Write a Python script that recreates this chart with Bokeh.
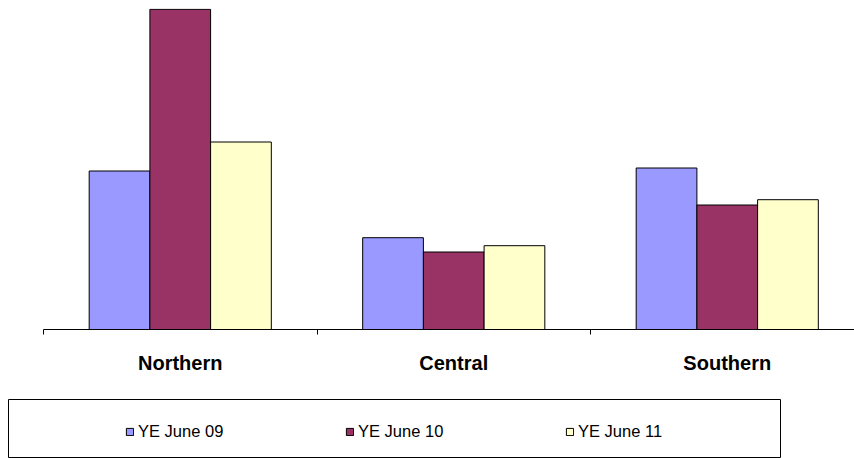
import numpy as np
from bokeh.plotting import figure
from bokeh.models import (ColumnDataSource, Range1d, LinearAxis, FixedTicker)
from bokeh.transform import dodge
from bokeh.embed import file_html
from bokeh.resources import INLINE

categories = ["Northern", "Central", "Southern"]
series_names = ["YE June 09", "YE June 10", "YE June 11"]
ye_june_09 = [158.5, 91.8, 161.5]
ye_june_10 = [320.2, 77.5, 124.5]
ye_june_11 = [187.5, 83.8, 129.8]
colors = ["#9999FF", "#993366", "#FFFFCC"]

x_centers = np.arange(len(categories)) + 0.5
src = ColumnDataSource(dict(x=x_centers, s0=ye_june_09, s1=ye_june_10, s2=ye_june_11))

p = figure(width=854, height=399, output_backend="svg", toolbar_location=None,
           x_range=Range1d(0, 811 / 273.5), y_range=Range1d(0, 321),
           x_axis_location=None, y_axis_location=None,
           min_border_left=43, min_border_right=0, min_border_top=8,
           min_border_bottom=70)
p.grid.visible = False
p.outline_line_color = None

bw = 0.222
offsets = [-bw, 0.0, bw]
for i, key in enumerate(["s0", "s1", "s2"]):
    p.vbar(x=dodge("x", offsets[i], range=p.x_range), top=key, width=bw, bottom=0,
           source=src, fill_color=colors[i], line_color="black", line_width=1)

ax = LinearAxis(ticker=FixedTicker(ticks=list(x_centers),
                                   minor_ticks=list(np.arange(len(categories) + 1))))
ax.major_label_overrides = {float(x): c for x, c in zip(x_centers, categories)}
ax.major_tick_out = 0
ax.major_tick_in = 0
ax.minor_tick_out = 5
ax.minor_tick_in = 0
ax.minor_tick_line_color = "black"
ax.axis_line_color = "black"
ax.axis_line_width = 1
ax.major_label_standoff = 17
ax.major_label_text_font = "Liberation Sans"
ax.major_label_text_font_style = "bold"
ax.major_label_text_font_size = "20px"
ax.major_label_text_color = "black"
p.add_layout(ax, "below")

# legend panel
p2 = figure(width=781, height=59, output_backend="svg", toolbar_location=None,
            x_range=Range1d(0, 1), y_range=Range1d(0, 1),
            x_axis_location=None, y_axis_location=None,
            min_border=0, min_border_left=8)
p2.grid.visible = False
p2.outline_line_color = "black"
p2.outline_line_width = 1
for i, name in enumerate(series_names):
    # legend-only swatch renderers (placed outside the visible range)
    p2.vbar(x=[-5], top=[-5], bottom=[-5], width=0.01, fill_color=colors[i],
            line_color="black", legend_label=name)
lg = p2.legend[0]
lg.orientation = "horizontal"
lg.location = (117, 17)
lg.padding = 0
lg.margin = 0
lg.spacing = 20
lg.border_line_color = None
lg.background_fill_alpha = 0
lg.glyph_width = 9
lg.glyph_height = 9
lg.label_standoff = 4
lg.label_width = 187
lg.label_height = 18
lg.label_text_font = "Liberation Sans"
lg.label_text_font_size = "16.5px"
lg.label_text_color = "black"

open("out.html", "w").write(file_html([p, p2], INLINE))
